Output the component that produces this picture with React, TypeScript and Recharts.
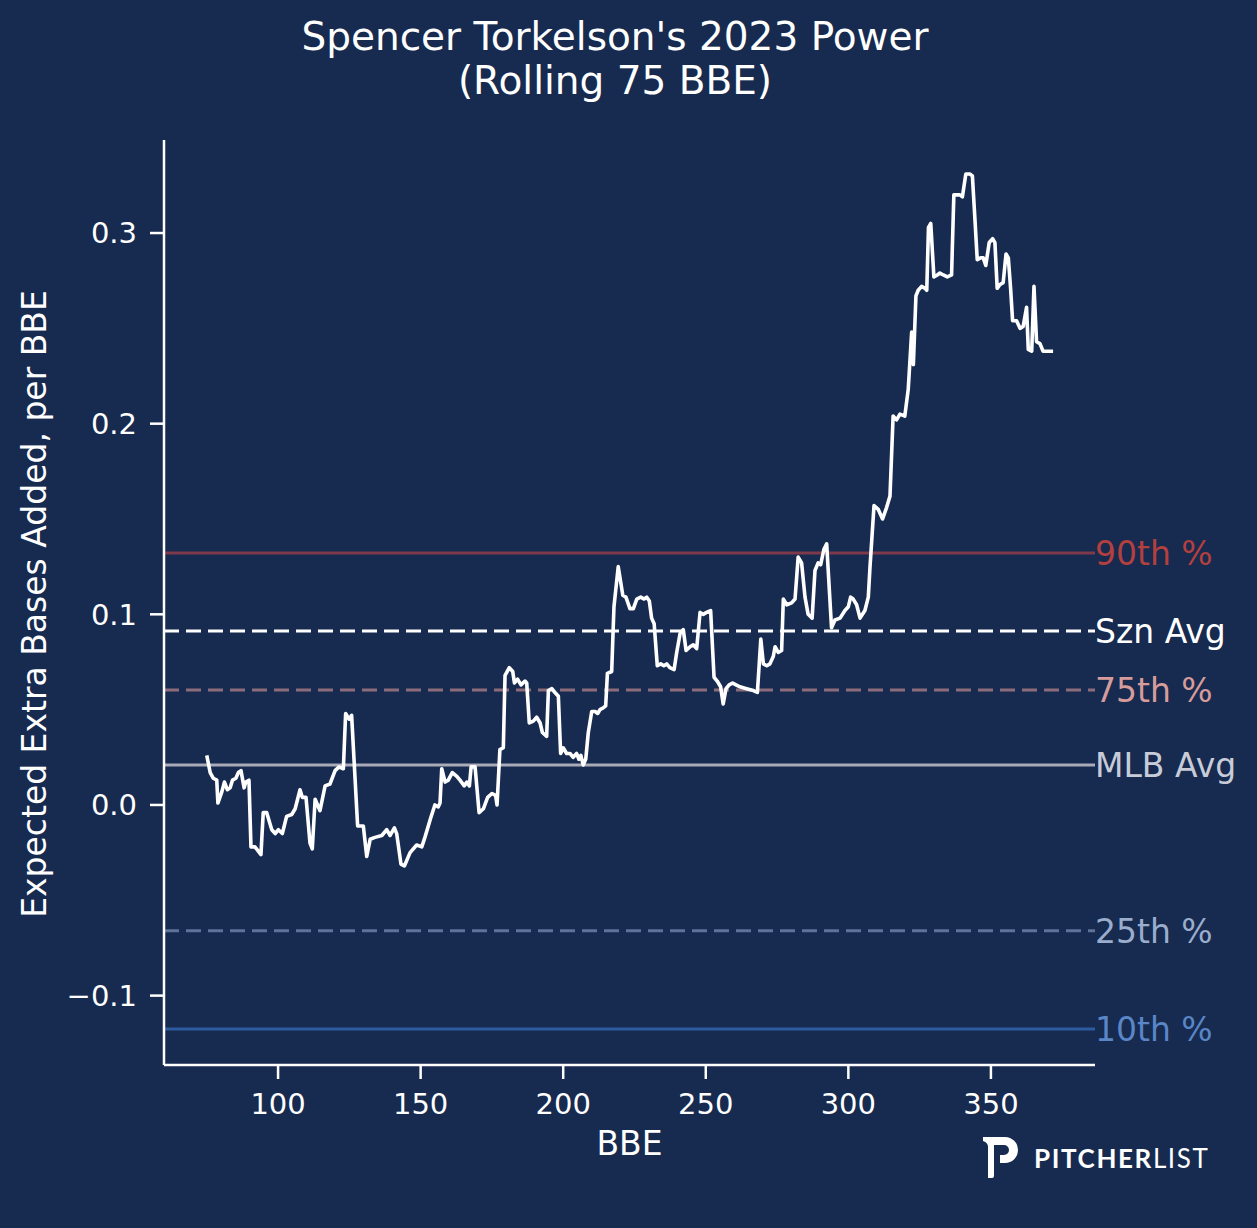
import React from 'react';
import {
  Line,
  LineChart,
  ReferenceLine,
  XAxis,
  YAxis,
} from 'recharts';

const bbe = [
  75, 76.2, 77.3, 78.5, 78.9, 80.3, 81.2, 82.2, 83.2, 84, 85.2, 86.1, 87, 88.1, 88.7, 89.8,
  90.5, 91.9, 94, 94.8, 96, 97.8, 99, 100.1, 101.5, 103, 104.8, 106, 107.7, 108.5, 109.8,
  111.2, 112, 113, 114.7, 116.5, 118.2, 120, 121.4, 122.9, 123.7, 124.9, 125.8, 127.9,
  129.9, 131.1, 132.3, 134, 136.4, 138.1, 139.3, 140.8, 141.6, 143.1, 144.3, 146.3, 148.6,
  150.4, 151.5, 153.5, 155, 156.2, 156.8, 157.4, 158.6, 159.7, 161.1, 162.7, 163.8, 165.3,
  166.2, 167.1, 167.7, 169.1, 170.5, 172, 173.5, 175, 176.3, 176.8, 177.8, 179, 179.6,
  181.1, 182.3, 182.9, 184, 185.2, 186.6, 187.2, 188.1, 189.5, 190.7, 191.9, 192.7, 194.2,
  194.8, 196, 197.1, 198.3, 199.1, 200, 201.2, 202.4, 203.5, 204.7, 205.5, 206.2, 207,
  207.9, 208.8, 210, 211.2, 212.1, 212.9, 214.1, 214.9, 215.5, 217, 217.8, 219.3, 220.9,
  222, 223.4, 224.6, 225.8, 227.2, 228.3, 229.3, 230.2, 231, 231.9, 233, 234.2, 235.3,
  236.3, 237.4, 238.9, 239.8, 241, 242.1, 243.1, 244.5, 245.6, 246.8, 248, 249.1, 250.3,
  251.7, 252.9, 254, 255.2, 256.1, 257.1, 258.2, 259.4, 260.6, 262, 264.3, 266.7, 268.1,
  269.3, 270.2, 271.4, 272.5, 273.7, 274.3, 275.4, 276.6, 277.2, 278.4, 280.1, 281.3,
  282.4, 283.6, 284.8, 285.9, 287.3, 288.3, 289.4, 290.3, 291.4, 292.4, 294.1, 295.3,
  297.1, 298.8, 300, 300.8, 301.7, 302.9, 304.1, 305.8, 307, 307.6, 309, 310.5, 312,
  313.4, 314.6, 315.7, 316.9, 318.1, 319.8, 321, 322.2, 322.8, 323.7, 324.5, 325.7, 326.9,
  327.5, 328.1, 328.9, 330, 331.2, 332.1, 333.3, 334.7, 336.2, 337, 338.2, 339.1, 340,
  341.2, 342.6, 343.5, 344.4, 345.2, 346.4, 347.3, 348.2, 349.4, 350.6, 351.4, 352.2,
  353.2, 354.3, 355.3, 356.1, 356.9, 357.6, 359, 360.2, 361.3, 362.5, 363.1, 364.3, 365.1,
  366, 367.2, 368.3, 369.5, 371.8,
];

const xeba = [
  0.026, 0.017, 0.014, 0.013, 0.001, 0.007, 0.012, 0.008, 0.009, 0.013, 0.014, 0.017, 0.018,
  0.009, 0.012, 0.013, -0.022, -0.022, -0.026, -0.004, -0.004, -0.013, -0.015, -0.013,
  -0.015, -0.006, -0.005, -0.002, 0.008, 0.004, 0.004, -0.02, -0.023, 0.003, -0.003, 0.01,
  0.011, 0.018, 0.02, 0.019, 0.048, 0.045, 0.047, -0.011, -0.011, -0.027, -0.018, -0.017,
  -0.016, -0.013, -0.016, -0.012, -0.015, -0.031, -0.032, -0.025, -0.021, -0.022, -0.017,
  -0.007, 0.0, -0.001, 0.001, 0.019, 0.012, 0.013, 0.017, 0.015, 0.013, 0.01, 0.012, 0.01,
  0.02, 0.02, -0.004, -0.002, 0.004, 0.006, 0.005, 0.0, 0.029, 0.03, 0.068, 0.072, 0.07,
  0.064, 0.066, 0.063, 0.065, 0.064, 0.043, 0.044, 0.046, 0.043, 0.038, 0.036, 0.06, 0.061,
  0.059, 0.057, 0.027, 0.03, 0.027, 0.027, 0.025, 0.027, 0.024, 0.026, 0.021, 0.024, 0.038,
  0.049, 0.049, 0.048, 0.05, 0.051, 0.052, 0.069, 0.07, 0.104, 0.125, 0.11, 0.109, 0.103,
  0.103, 0.108, 0.109, 0.108, 0.109, 0.107, 0.098, 0.095, 0.073, 0.074, 0.073, 0.074, 0.072,
  0.071, 0.08, 0.09, 0.092, 0.081, 0.083, 0.084, 0.082, 0.101, 0.1, 0.101, 0.102, 0.067,
  0.065, 0.062, 0.053, 0.061, 0.063, 0.064, 0.063, 0.062, 0.061, 0.06, 0.059, 0.087, 0.074,
  0.073, 0.074, 0.078, 0.083, 0.08, 0.081, 0.108, 0.105, 0.106, 0.108, 0.13, 0.127, 0.109,
  0.1, 0.098, 0.123, 0.127, 0.126, 0.134, 0.137, 0.093, 0.097, 0.098, 0.102, 0.104, 0.109,
  0.108, 0.105, 0.098, 0.102, 0.109, 0.125, 0.157, 0.155, 0.15, 0.156, 0.162, 0.204, 0.202,
  0.205, 0.204, 0.218, 0.248, 0.231, 0.267, 0.27, 0.272, 0.271, 0.27, 0.303, 0.305, 0.277,
  0.278, 0.279, 0.278, 0.277, 0.278, 0.32, 0.32, 0.32, 0.319, 0.331, 0.331, 0.33, 0.307,
  0.286, 0.287, 0.287, 0.283, 0.295, 0.297, 0.295, 0.271, 0.273, 0.274, 0.289, 0.287, 0.271,
  0.254, 0.254, 0.25, 0.251, 0.261, 0.239, 0.238, 0.272, 0.243, 0.242, 0.238, 0.238, 0.238,
];

const xTicks = [100, 150, 200, 250, 300, 350];
const yTicks = [-0.1, 0.0, 0.1, 0.2, 0.3];

const refNames = ['90th %', 'Szn Avg', '75th %', 'MLB Avg', '25th %', '10th %'];
const refValues = [0.1322, 0.0913, 0.0603, 0.021, -0.066, -0.1175];

const BG = '#172a4f';
const FONT = '"DejaVu Sans", sans-serif';

const refStyles = [
  { stroke: '#7e3a4a', label: '#b3403f', dash: undefined },
  { stroke: '#ffffff', label: '#ffffff', dash: '15 7' },
  { stroke: '#8c6c7b', label: '#d69c9c', dash: '15 7' },
  { stroke: '#a9acb8', label: '#c7ccd8', dash: undefined },
  { stroke: '#5d7399', label: '#9badcd', dash: '15 7' },
  { stroke: '#2e5aa0', label: '#5a86c7', dash: undefined },
];

const data = bbe.map((x, i) => ({ bbe: x, xeba: xeba[i] }));

const fmtY = (v: number) => (v < 0 ? '\u2212' + Math.abs(v).toFixed(1) : v.toFixed(1));

const App = () => {
  return (
    <div
      style={{
        position: 'absolute',
        left: 0,
        top: 0,
        width: 1257,
        height: 1228,
        background: BG,
        overflow: 'hidden',
      }}
    >
      <LineChart
        width={1257}
        height={1228}
        data={data}
        margin={{ top: 140, right: 162, bottom: 103, left: 64 }}
      >
        <XAxis
          dataKey="bbe"
          type="number"
          domain={[60, 386.5]}
          ticks={xTicks}
          allowDataOverflow
          height={60}
          tickSize={14}
          tickMargin={14}
          axisLine={{ stroke: '#ffffff', strokeWidth: 2.5 }}
          tickLine={{ stroke: '#ffffff', strokeWidth: 2.5 }}
          tick={{ fill: '#ffffff', fontSize: 29, fontFamily: FONT }}
        />
        <YAxis
          type="number"
          domain={[-0.1364, 0.3488]}
          ticks={yTicks}
          allowDataOverflow
          width={100}
          tickSize={14}
          tickMargin={13}
          tickFormatter={fmtY}
          axisLine={{ stroke: '#ffffff', strokeWidth: 2.5 }}
          tickLine={{ stroke: '#ffffff', strokeWidth: 2.5 }}
          tick={{ fill: '#ffffff', fontSize: 29, fontFamily: FONT }}
        />
        {refValues.map((v, i) => (
          <ReferenceLine
            key={refNames[i]}
            y={v}
            stroke={refStyles[i].stroke}
            strokeWidth={3}
            strokeDasharray={refStyles[i].dash}
            label={{
              value: refNames[i],
              position: 'right',
              offset: 0,
              fill: refStyles[i].label,
              fontSize: 33,
              fontFamily: FONT,
            }}
          />
        ))}
        <Line
          type="linear"
          dataKey="xeba"
          stroke="#ffffff"
          strokeWidth={3.6}
          strokeLinejoin="round"
          dot={false}
          isAnimationActive={false}
        />
      </LineChart>

      <svg
        width={1257}
        height={1228}
        style={{ position: 'absolute', left: 0, top: 0, pointerEvents: 'none' }}
      >
        <text
          x={615}
          y={50}
          textAnchor="middle"
          fill="#ffffff"
          fontSize={39}
          fontFamily={FONT}
        >
          Spencer Torkelson's 2023 Power
        </text>
        <text
          x={615}
          y={94}
          textAnchor="middle"
          fill="#ffffff"
          fontSize={39}
          fontFamily={FONT}
        >
          (Rolling 75 BBE)
        </text>
        <text
          transform="translate(34,604) rotate(-90)"
          textAnchor="middle"
          dominantBaseline="central"
          fill="#ffffff"
          fontSize={33}
          fontFamily={FONT}
        >
          Expected Extra Bases Added, per BBE
        </text>
        <text
          x={629.5}
          y={1155}
          textAnchor="middle"
          fill="#ffffff"
          fontSize={33}
          fontFamily={FONT}
        >
          BBE
        </text>

        {/* pitcherlist mark */}
        <path
          d="M983,1137 L1005,1137 A13,13 0 0 1 1005,1163 L1000,1163 L1000,1155 L1004,1155 A5,5 0 0 0 1004,1145 L994,1145 L994,1176 Q994,1178 992,1178 L988,1178 L988,1146 Q987,1142 983,1141 Z"
          fill="#ffffff"
        />
        <text x={1034} y={1168} fill="#ffffff" fontSize={26} fontFamily="Lato, sans-serif" letterSpacing={1.6}>
          <tspan fontWeight={700}>PITCHER</tspan>
          <tspan fontWeight={400}>LIST</tspan>
        </text>
      </svg>
    </div>
  );
};

export default App;
